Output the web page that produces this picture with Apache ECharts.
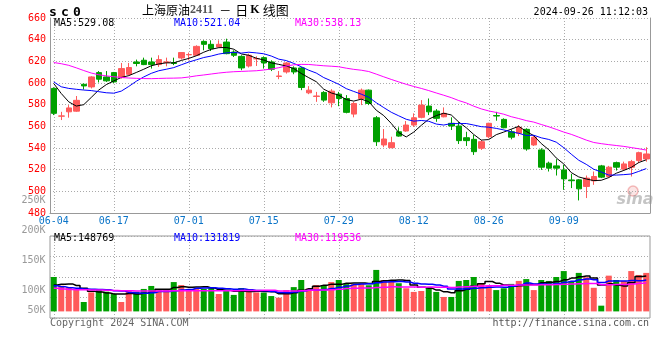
<!DOCTYPE html>
<html><head><meta charset="utf-8">
<script src="https://cdn.jsdelivr.net/npm/echarts@6/dist/echarts.min.js"></script>
<style>html,body{margin:0;padding:0;background:#fff}#c{width:660px;height:360px}</style>
</head><body><div id="c"></div>
<script>
// ---------- data ----------
const dates = ['06-04','06-05','06-06','06-07','06-11','06-12','06-13','06-14','06-17','06-18','06-19','06-20','06-21','06-24','06-25','06-26','06-27','06-28',
'07-01','07-02','07-03','07-04','07-05','07-08','07-09','07-10','07-11','07-12','07-15','07-16','07-17','07-18','07-19','07-22','07-23','07-24','07-25','07-26','07-29','07-30','07-31',
'08-01','08-02','08-05','08-06','08-07','08-08','08-09','08-12','08-13','08-14','08-15','08-16','08-19','08-20','08-21','08-22','08-23','08-26','08-27','08-28','08-29','08-30',
'09-02','09-03','09-04','09-05','09-06','09-09','09-10','09-11','09-12','09-13','09-18','09-19','09-20','09-23','09-24','09-25','09-26'];
const labelDates = ['06-04','06-17','07-01','07-15','07-29','08-12','08-26','09-09'];

const opens = [595,569.4,573.4,574,598.8,596.4,609.6,605.6,609.6,605,
608,619.4,621,619.4,617,619,618.8,623.1,626,625.6,
638.4,635.7,633.2,637.8,628.6,624.6,615.7,622.3,623.4,619.4,
606,610.2,613.9,613.9,590.9,587.6,591.3,581.7,589.7,585.7,
571.3,585.7,593.4,567.9,542.8,540.3,555,555.7,561.2,568.3,
578.7,574.1,568.8,562.8,560.3,549.5,548,539.8,550.4,570,
566.4,555,553.6,557.2,542.8,538.2,526,523.5,519.8,510.5,
510.6,504.5,509.7,523.5,513.7,526.5,520.5,522.3,528.4,529.9];
const closes = [572,569.6,577,584,597.3,605.6,603.5,602,601,613.3,
614.3,618,617,617,621.6,619.5,618,628.1,626.3,633.8,
635.7,631.7,635.7,627.1,625.6,613.9,625.6,622.5,618.5,612.7,
606.5,618.5,610.2,595.9,593.4,588,584.2,592.5,585.7,572.9,
581.1,593.4,581.1,545.8,548.3,544.9,551,561.2,567.9,579.6,
573.4,567.4,572,560.3,546.8,546.8,536.6,545.8,562.8,569.5,
558.7,550,559.1,539.1,549.9,522.3,521.4,521.4,511.5,509.8,
502.3,512.2,513.7,513.1,522.3,522.3,525.3,527.4,535.7,534.5];
const lows = [570.4,565.8,568,573.4,594,595,600.5,601,600,604,
607,615.4,616.5,613.3,614.8,615.4,616.5,621.6,621,625,
630.2,629.5,632.6,626.5,624,611.8,614.3,615.7,613.3,611,
603.5,608.7,608.1,593.4,589.7,582.6,582.6,577.5,578.6,572,
568.3,579.6,579.6,541.9,540.7,539.8,550.4,555,559.6,567.4,
570.4,564.2,568.3,556.6,543.7,541.9,533.6,538.2,549,565.2,
558.2,548,551,537.5,541.9,519.8,518.3,514.6,501.4,503,
491.6,493.8,506,512.2,512.7,519.2,518.9,513.7,526,527.4];
const highs = [596,573.4,579.6,588,599.5,606.3,611,611,610.2,618.5,
618.5,621.6,623.4,623.4,625.6,623.4,623.4,628.5,628.1,634.8,
639.4,639.4,639.4,640.9,630.2,625.6,627.1,624.6,624.6,621,
611.1,619.4,615.4,614.8,597.1,591.8,592.5,594.3,591.8,588.8,
582.6,594.9,594,569.5,557.5,550.4,559.1,564.9,572,584.2,
585.7,575.9,577.5,568.3,564.2,555,552,547.4,563.3,573.4,
567.4,557.2,561.2,558.2,551.1,539.8,527.4,529.7,524.4,516.1,
511.3,514.6,518.3,524.4,523.5,527.4,527.4,529,536.6,540.7];

const ma5 = [599.5,590.3,582.6,578.7,580.0,586.7,593.5,598.5,601.9,605.1,
606.8,609.7,612.7,615.9,617.6,618.6,618.6,620.8,622.7,625.1,
628.4,631.1,632.6,632.8,631.2,626.8,625.6,622.9,621.2,618.6,
617.2,615.7,613.3,608.8,604.9,601.2,594.3,590.8,588.8,584.7,
583.3,585.1,582.8,574.9,569.9,562.7,554.2,550.2,554.7,560.9,
566.6,569.9,572.1,570.5,564.0,558.7,552.5,547.3,547.8,552.3,
554.7,557.4,560.0,555.3,551.4,544.1,538.4,530.8,525.3,517.3,
513.3,511.4,509.9,510.2,512.7,516.7,519.3,522.1,526.6,529.1];
const ma10 = [601.0,596.5,595.0,594.2,593.5,593.0,592.0,591.0,590.6,592.5,
596.8,601.6,605.6,608.9,611.3,612.7,614.2,616.8,619.3,621.4,
623.5,624.9,626.7,627.8,628.2,627.6,628.4,627.8,627.0,624.9,
622.0,620.7,618.1,615.0,611.8,609.2,605.0,602.0,598.8,594.8,
592.2,589.7,586.8,581.8,577.3,573.0,569.7,566.5,564.8,565.4,
564.7,562.1,561.2,562.6,562.5,562.6,561.2,559.7,559.2,558.1,
556.7,554.9,553.6,551.5,551.8,549.4,547.9,545.4,540.3,534.3,
528.7,524.9,520.4,517.8,515.0,515.0,515.4,516.0,518.4,521.0];
const ma30 = [618.9,617.8,616.3,614.0,611.5,609.2,607.6,606.6,605.8,605.1,
604.6,604.3,604.1,604.0,604.2,604.4,604.5,604.7,605.5,606.6,
607.4,608.3,609.2,609.9,610.4,610.7,611.0,611.3,612.0,612.9,
614.1,615.7,616.8,617.2,617.1,616.5,615.9,615.5,615.0,613.7,
612.6,611.8,610.6,608.2,605.7,603.3,601.0,598.8,596.8,595.0,
593.0,590.8,588.7,586.5,583.8,581.6,578.6,576.1,574.2,572.8,
571.2,568.9,567.2,565.3,563.9,561.7,559.6,557.2,554.7,552.6,
550.0,547.3,545.1,544.0,543.1,542.3,541.5,540.4,539.3,538.1];

// volume, thousand lots
const volumes = [150,112,105,96,41,83,96,86,76,41,
93,86,98,111,93,93,128,115,98,98,
98,102,76,90,72,102,93,83,82,67,
60,93,106,137,100,115,115,128,137,119,
119,119,114,181,137,130,123,101,85,89,
105,85,63,63,133,137,150,120,112,93,
101,120,133,141,93,137,133,150,176,130,
168,149,103,25,156,137,133,176,159,168];
const volMa5 = [115,118,120,113,100.8,87.4,84.2,80.4,76.4,76.4,
78.4,76.4,78.8,85.8,96.2,96.2,104.6,108,105.4,106.4,
107.4,102.2,94.4,92.8,87.6,88.4,86.6,88,86.4,85.4,
77,77,81.6,92.6,99.2,110.2,114.6,119,119,122.8,
123.6,124.4,121.6,130.4,134,136.2,137,134.4,115.2,105.6,
100.6,93,85.4,81,89.8,96.2,109.2,120.6,130.4,122.4,
115.2,109.2,111.8,117.6,117.6,124.8,127.4,130.8,137.8,145.2,
151.4,154.6,145.2,115,120.2,114,110.8,125.4,152.2,154.6];
const volMa10 = [112,108,103,101,98,97,96,95,90,88.6,
82.9,80.3,79.6,81.1,86.3,87.3,90.5,93.4,95.6,101.3,
101.8,103.4,101.2,99.1,97,97.9,94.4,91.2,89.6,86.5,
82.7,81.8,84.8,89.5,92.3,93.6,95.8,100.3,105.8,111,
116.9,119.5,120.3,124.7,128.4,129.9,130.7,128,122.8,119.8,
118.4,115,109.9,98.1,97.7,98.4,101.1,103,105.7,106.1,
105.7,109.2,116.2,124,120,120,118.3,121.3,127.7,131.4,
138.1,141,138,126.4,132.7,132.7,132.7,135.3,133.6,137.4];
const volMa30 = [101,98,96,95,94,93,93,92,91,90,
90,89,89,89,89,89,90,90,90,90,
90,90,90,90,90.5,91,91,91.5,92,92.1,
89.1,88.5,88.5,89.9,91.9,92.9,93.6,95.0,97.0,99.6,
100.5,101.6,102.1,104.4,105.9,107.1,107.0,106.5,106.1,105.8,
106.0,105.4,105.0,104.1,106.1,107.3,109.2,110.4,111.4,112.3,
113.7,114.6,115.5,115.6,115.4,116.1,116.7,117.4,118.7,119.1,
120.7,121.7,121.4,116.2,116.8,117.0,117.4,119.9,122.3,125.0];

const volTickLabels = ['250K','200K','150K','100K','50K'];
const priceMaTexts = ['MA5:529.08','MA10:521.04','MA30:538.13'];
const volMaTexts = ['MA5:148769','MA10:131819','MA30:119536'];
const stampText = '2024-09-26 11:12:03';

// ---------- styling / layout ----------
const RED = '#ff5a5a', GREEN = '#00a000';
const MA_COLORS = ['#000000', '#0000ff', '#ff00ff'];
const MONO = '"DejaVu Sans Mono", "Liberation Mono", monospace';
const GRID_LINE = {color: '#aaaaaa', type: [1, 2], width: 1};
const volTickY = [200.5, 230.5, 260.5, 290.5, 310.5];
const maX = [54, 174, 295];

const isLabel = (i, v) => labelDates.indexOf(v) >= 0;
const candleData = dates.map((d, i) => [opens[i], closes[i], lows[i], highs[i]]);

const chart = echarts.init(document.getElementById('c'), null, {renderer: 'canvas'});

const graphics = [];
graphics.push({type: 'text', x: 49, y: 12.5, style: {
  text: '{s|s}{s|c}{s|0}', verticalAlign: 'middle',
  rich: {s: {width: 12, fontSize: 13, fontWeight: 'bold', fontFamily: MONO, fill: '#000'}}
}});
graphics.push({type: 'text', x: 142, y: 10, style: {
  text: '{a|上海原油}{n|2411}{d|－}{b|日}{k|K}{b|线图}', verticalAlign: 'middle',
  rich: {
    a: {fontSize: 12, fontFamily: '"Noto Sans CJK SC"', fill: '#000'},
    b: {fontSize: 13, fontFamily: '"Noto Sans CJK SC"', fill: '#000'},
    n: {fontSize: 12, fontWeight: 'bold', fontFamily: '"Liberation Serif", serif', fill: '#555'},
    d: {fontSize: 12, fontFamily: '"Noto Sans CJK SC"', fill: '#000', padding: [0, 4, 0, 6]},
    k: {fontSize: 12, fontWeight: 'bold', fontFamily: '"Liberation Serif", serif', fill: '#000', padding: [0, 3, 0, 2]}
  }
}});
graphics.push({type: 'text', x: 648, y: 12, style: {text: stampText, align: 'right', verticalAlign: 'middle', fontSize: 10, fontFamily: MONO, fill: '#000'}});
priceMaTexts.forEach((t, k) => graphics.push({type: 'text', x: maX[k], y: 23.5, z: 10,
  style: {text: t, verticalAlign: 'middle', fontSize: 10, fontFamily: MONO, fill: MA_COLORS[k]}}));
volMaTexts.forEach((t, k) => graphics.push({type: 'text', x: maX[k], y: 238.5, z: 10,
  style: {text: t, verticalAlign: 'middle', fontSize: 10, fontFamily: MONO, fill: MA_COLORS[k]}}));
volTickLabels.forEach((t, k) => graphics.push({type: 'text', x: 45.5, y: volTickY[k],
  style: {text: t, align: 'right', verticalAlign: 'middle', fontSize: 10, fontFamily: MONO, fill: '#999'}}));
graphics.push({type: 'text', x: 50, y: 323.5, style: {text: 'Copyright 2024 SINA.COM', verticalAlign: 'middle', fontSize: 10, fontFamily: MONO, fill: '#666'}});
graphics.push({type: 'text', x: 649, y: 323.5, style: {text: 'http://finance.sina.com.cn', align: 'right', verticalAlign: 'middle', fontSize: 10, fontFamily: MONO, fill: '#555'}});
// sina watermark
graphics.push({type: 'circle', shape: {cx: 633, cy: 191, r: 5}, z: 0,
  style: {fill: 'rgba(240,150,150,0.25)', stroke: 'rgba(230,110,110,0.45)', lineWidth: 1.5}});
graphics.push({type: 'text', x: 635, y: 200, z: 0, style: {text: 'sina', align: 'center', verticalAlign: 'middle',
  fontSize: 16, fontStyle: 'italic', fontWeight: 'bold', fontFamily: '"DejaVu Sans", sans-serif', fill: 'rgba(150,150,150,0.55)'}});

const option = {
  animation: false,
  backgroundColor: '#fff',
  grid: [
    {left: 50, right: 10, top: 18, height: 195},
    {left: 50, right: 10, top: 236, height: 82, show: true, borderColor: '#999', borderWidth: 1, backgroundColor: 'transparent'}
  ],
  xAxis: [
    {type: 'category', gridIndex: 0, data: dates, boundaryGap: true,
     axisLine: {show: true, onZero: false, lineStyle: {color: '#999'}},
     axisTick: {show: false},
     axisLabel: {interval: isLabel, color: '#0a74c8', fontFamily: MONO, fontSize: 10, margin: 3},
     splitLine: {show: true, interval: isLabel, alignWithLabel: true, lineStyle: GRID_LINE}},
    {type: 'category', gridIndex: 1, data: dates, boundaryGap: true,
     axisLine: {show: false, onZero: false},
     axisTick: {show: true, interval: isLabel, alignWithLabel: true, length: 3, lineStyle: GRID_LINE},
     axisLabel: {show: false},
     splitLine: {show: true, interval: isLabel, alignWithLabel: true, lineStyle: GRID_LINE}}
  ],
  yAxis: [
    {type: 'value', gridIndex: 0, min: 480, max: 660, interval: 20, position: 'left',
     axisLine: {show: true, lineStyle: {color: '#999'}}, axisTick: {show: false},
     axisLabel: {color: '#ff0000', fontFamily: MONO, fontSize: 10, margin: 4, padding: [0, 0, 4, 0]},
     splitLine: {show: true, lineStyle: GRID_LINE}},
    {type: 'value', gridIndex: 0, min: 480, max: 660, interval: 20, position: 'right',
     axisLine: {show: true, lineStyle: {color: '#999'}}, axisTick: {show: false},
     axisLabel: {show: false}, splitLine: {show: false}},
    {type: 'value', gridIndex: 1, min: -28.8, max: 329, interval: 89.45,
     axisLine: {show: false}, axisTick: {show: false}, axisLabel: {show: false},
     splitLine: {show: true, lineStyle: GRID_LINE}}
  ],
  series: [
    {type: 'candlestick', xAxisIndex: 0, yAxisIndex: 0, data: candleData, barWidth: 6,
     itemStyle: {color: RED, color0: GREEN, borderColor: RED, borderColor0: GREEN, borderWidth: 1}},
    {type: 'line', xAxisIndex: 0, yAxisIndex: 0, data: ma5, symbol: 'none', lineStyle: {color: MA_COLORS[0], width: 1}},
    {type: 'line', xAxisIndex: 0, yAxisIndex: 0, data: ma10, symbol: 'none', lineStyle: {color: MA_COLORS[1], width: 1}},
    {type: 'line', xAxisIndex: 0, yAxisIndex: 0, data: ma30, symbol: 'none', lineStyle: {color: MA_COLORS[2], width: 1}},
    {type: 'bar', xAxisIndex: 1, yAxisIndex: 2, data: volumes, barWidth: 6,
     itemStyle: {color: p => closes[p.dataIndex] >= opens[p.dataIndex] ? RED : GREEN}},
    {type: 'line', xAxisIndex: 1, yAxisIndex: 2, data: volMa5, symbol: 'none', step: 'middle', lineStyle: {color: MA_COLORS[0], width: 1.5}},
    {type: 'line', xAxisIndex: 1, yAxisIndex: 2, data: volMa10, symbol: 'none', step: 'middle', lineStyle: {color: MA_COLORS[1], width: 1.5}},
    {type: 'line', xAxisIndex: 1, yAxisIndex: 2, data: volMa30, symbol: 'none', step: 'middle', lineStyle: {color: MA_COLORS[2], width: 1.5}}
  ],
  graphic: graphics
};
chart.setOption(option);
</script>
</body></html>
